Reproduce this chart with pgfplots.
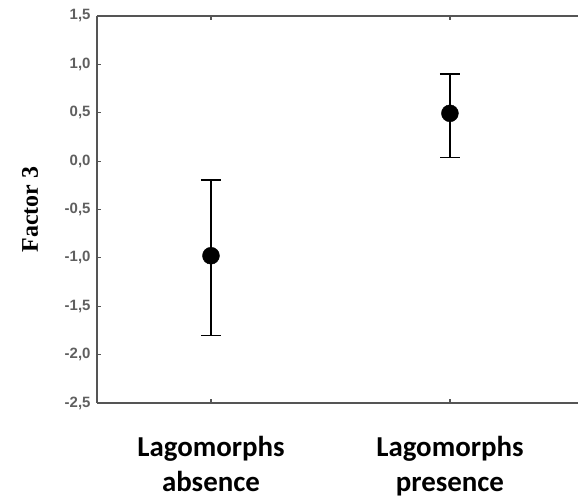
\documentclass[border=0pt]{standalone}
\usepackage{pgfplots}
\pgfplotsset{compat=1.18}
\usepackage{fontspec}
\setmainfont{Liberation Serif}
\newfontfamily\tickfont{Liberation Sans}
\newfontfamily\catfont{Carlito}
\definecolor{axgray}{RGB}{85,85,85}
\definecolor{tickgray}{RGB}{95,95,95}
\begin{document}
\begin{tikzpicture}
\begin{axis}[
  name=ax,
  scale only axis,
  width=481bp, height=387bp,
  xmin=-0.477, xmax=1.536,
  ymin=-2.5, ymax=1.5,
  axis x line=box,
  axis y line=left,
  axis line style={axgray, line width=2bp, -},
  ytick={-2.5,-2,...,1.5},
  xtick={0,1},
  xticklabels={Lagomorphs\\absence, Lagomorphs\\presence},
  tick align=inside,
  major tick length=4bp,
  tick style={axgray, line width=1.2bp},
  yticklabel style={font=\tickfont\bfseries\fontsize{15}{17}\selectfont, text=tickgray, xshift=-3bp},
  xticklabel style={font=\catfont\bfseries\fontsize{29}{35}\selectfont, align=center, yshift=-30bp},
  /pgf/number format/.cd, use comma, fixed, fixed zerofill, precision=1, assume math mode=true,
  /pgfplots/.cd,
  ylabel={\bfseries Factor 3},
  ylabel style={font=\fontsize{24}{26}\selectfont, at={(axis description cs:-0.139,0.5)}, anchor=center},
]
\addplot[
  only marks, black,
  mark=*, mark size=8.5bp,
  error bars/.cd, y dir=both, y explicit,
  error bar style={line width=1.3bp, black},
  error mark options={rotate=90, mark size=10bp, line width=1.3bp, black},
] coordinates {
  (0,-0.978) += (0,0.783) -= (0,0.826)
  (1,0.494) += (0,0.406) -= (0,0.459)
};
\end{axis}
\pgfresetboundingbox
\path[use as bounding box] ([xshift=-97bp,yshift=-94bp]ax.south west) rectangle ([yshift=16bp]ax.north east);
\end{tikzpicture}
\end{document}
